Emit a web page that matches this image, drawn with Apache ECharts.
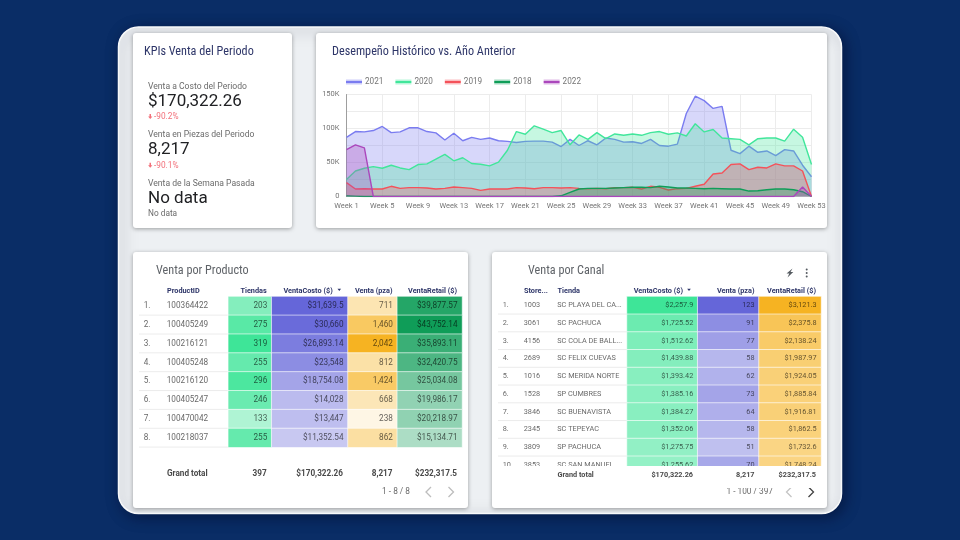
<!DOCTYPE html>
<html><head><meta charset="utf-8">
<style>html,body{margin:0;padding:0;background:#0a2d66}#c{width:960px;height:540px}</style>
<script src="https://cdn.jsdelivr.net/npm/echarts@6/dist/echarts.min.js"></script>
</head><body><div id="c"></div>
<script>
// ---------- data ----------
const weeks = Array.from({length:53},(_,i)=>'Week '+(i+1));
const s2021 = [87,95.5,95,97,103,94,95,101,101,95.5,93.5,83,93,82,87,84,86,82,81,79.5,81,81.5,81.5,80,73.5,84,75,82,76,86,84,80,80.5,78,84,75,74,77,122,147.5,141,129.5,132.5,68,63,74,65,67,60,69,67,46,29];
const s2020 = [25,37.5,41.5,44,41.5,46,42,39.5,47,48,55,62,52.5,57,48.5,47.5,45,50.5,68,95.5,91.5,104,99,94,97,76,90.5,84,94,85,92,90,92,90,94,95.5,91.5,93.5,89,107,95,98.5,86,85,84,76,85,86,86,81.5,99,87,47];
const s2019 = [20.5,11,11.5,11,11,15,12,13,13,12.5,11,12,14,13,12,9,11,11,11,13,12.5,11.5,13,13,12.5,13,12,11.5,12,11.5,13,13,13.5,11,15,13.5,9.5,11.5,12,15,18,33,34.5,47,48,39.5,43,42,48,45,45,37.5,0];
const s2018 = [1,0.5,0,0,0,0,0,0,0,0,0,0,0,0,0,0,0,0,0,0,0,0,0,0,1,6,11,12,12,12,12.5,13,13.5,13.5,13,15,14,12.5,12.5,12,11.5,12,11.5,11,11,8,8.5,10,11,11,10,7,0];
const s2022 = [69,76,71.5,0,0,0,0,0,0,0,0,0,0,0,0,0,0,0,0,0,0,0,0,0,0,0,0,0,0,0,0,0,0,0,0,0,0,0,0,0,0,0,0,0,0,0,0,0,0,0,0,14,0];
const seriesNames = ['2021','2020','2019','2018','2022'];
const seriesColors = ['#7a7cf0','#41e69b','#f4525a','#0f9d58','#ab47bc'];
const yTicksK = [0,50,100,150];

const prodIds = ['100364422','100405249','100216121','100405248','100216120','100405247','100470042','100218037'];
const prodStores = [203,275,319,255,296,246,133,255];
const prodCost = [31639.5,30660,26893.14,23548,18754.08,14028,13447,11352.54];
const prodPieces = [711,1460,2042,812,1424,668,238,862];
const prodRetail = [39877.57,43752.14,35893.11,32420.75,25034.08,19986.17,20218.97,15134.71];

const chanIds = ['1003','3061','4156','2689','1016','1528','3846','2345','3809','3853'];
const chanNames = ['SC PLAYA DEL CA...','SC PACHUCA','SC COLA DE BALL...','SC FELIX CUEVAS','SC MERIDA NORTE','SP CUMBRES','SC BUENAVISTA','SC TEPEYAC','SP PACHUCA','SC SAN MANUEL'];
const chanCost = [2257.9,1725.52,1512.62,1439.88,1393.42,1385.16,1384.27,1352.06,1275.75,1255.62];
const chanPieces = [123,91,77,58,62,73,64,58,51,70];
const chanRetail = [3121.3,2375.8,2138.24,1987.97,1924.05,1885.84,1916.81,1862.5,1732.6,1748.24];

const kpis = [
  {label:'Venta a Costo del Periodo', value:'$170,322.26', delta:'-90.2%'},
  {label:'Venta en Piezas del Periodo', value:'8,217', delta:'-90.1%'},
  {label:'Venta de la Semana Pasada', value:'No data', delta:'No data'}
];
// ---------- helpers ----------
const FONT='Roboto', TITLE='"Roboto Condensed","Liberation Sans Narrow",Roboto';
const money=v=>'$'+v.toLocaleString('en-US',{maximumFractionDigits:2});
const int=v=>v.toLocaleString('en-US');
const hex=c=>[1,3,5].map(i=>parseInt(c.substr(i,2),16));
const shade=(c,t)=>{const a=hex(c);return 'rgb('+a.map(x=>Math.round(255+(x-255)*t)).join(',')+')';};

const graphic=[], grids=[], xAxes=[], yAxes=[], series=[];
const T=(x,y,text,o={})=>graphic.push({type:'text',x,y:y+.8,z:o.z||5,zlevel:0,style:{text,fill:o.color||'#5f6368',font:(o.weight||'400')+' '+(o.size||8)+'px '+(o.font||FONT),textAlign:o.align||'left',textVerticalAlign:'middle'}});
const card=(x,y,w,h)=>graphic.push({type:'rect',z:1,shape:{x,y,width:w,height:h,r:3},style:{fill:'#fff',shadowBlur:4,shadowOffsetY:1,shadowColor:'rgba(0,0,0,.35)'}});

// page
graphic.push({type:'rect',z:0,shape:{x:118.5,y:27,width:723,height:486.5,r:20},style:{fill:'#edf0f3',stroke:'#f8f9fa',lineWidth:1.5,shadowBlur:14,shadowOffsetX:3,shadowOffsetY:3,shadowColor:'rgba(0,10,40,.55)'}});
card(133,33,159,195); card(316,33,511,195); card(133,252,335,256); card(492,252,335,256);

// KPI
T(144,51.5,'KPIs Venta del Periodo',{size:12.2,color:'#2d3568',font:TITLE});
[[86,101,116],[134.3,149.3,164.7],[183,198,213]].forEach((ys,i)=>{
  const k=kpis[i];
  T(148,ys[0],k.label,{size:8.6,color:'#6b6b6b'});
  T(148,ys[1],k.value,{size:17,color:'#202124'});
  if(i<2){ 
    graphic.push({type:'polygon',z:5,shape:{points:[[149.5,ys[2]-2],[151,ys[2]-2],[151,ys[2]+.5],[152.4,ys[2]+.5],[150.25,ys[2]+3],[148.1,ys[2]+.5],[149.5,ys[2]+.5]]},style:{fill:'#f2707a'}});
    T(154,ys[2],k.delta,{size:8.3,color:'#f2707a'});
  } else T(148,ys[2],k.delta,{size:8.3,color:'#6b6b6b'});
});
T(332,51.5,'Desempeño Histórico vs. Año Anterior',{size:12.2,color:'#2d3568',font:TITLE});

// line chart
grids.push({left:346.5,top:94.5,width:465,height:102,containLabel:false});
xAxes.push({type:'category',gridIndex:0,data:weeks,boundaryGap:false,z:3,
  axisLine:{show:false},axisTick:{show:false},
  axisLabel:{interval:3,color:'#757575',fontFamily:FONT,fontSize:7.5,margin:6},
  splitLine:{show:true,interval:3,lineStyle:{color:'#ececec',width:1}}});
yAxes.push({type:'value',gridIndex:0,min:0,max:150,interval:25,z:3,
  axisLine:{show:true,lineStyle:{color:'#9e9e9e',width:1}},axisTick:{show:false},
  axisLabel:{color:'#757575',fontFamily:FONT,fontSize:7.5,margin:7,
    formatter:v=>yTicksK.includes(v)?(v?v+'K':'0'):''},
  splitLine:{show:true,lineStyle:{color:'#ececec',width:1}}});
[s2021,s2020,s2019,s2018,s2022].forEach((d,i)=>series.push({type:'line',name:seriesNames[i],xAxisIndex:0,yAxisIndex:0,data:d,
  symbol:'none',z:10+i,lineStyle:{color:seriesColors[i],width:1.4},itemStyle:{color:seriesColors[i]},areaStyle:{color:seriesColors[i],opacity:.3}}));

// tables
function table(t){
  const n=t.rows;
  const top=t.top, h=t.pitch*n;
  t.cols.forEach(c=>{
    const gi=grids.length;
    grids.push({left:c.x,top,width:c.w,height:h});
    xAxes.push({type:'category',gridIndex:gi,data:[c.name],show:false});
    yAxes.push({type:'category',gridIndex:gi,inverse:true,data:c.values.map((_,i)=>i),show:false});
    const max=c.color?Math.max(...c.values):1;
    series.push({type:'heatmap',xAxisIndex:gi,yAxisIndex:gi,z:6,
      data:c.values.map((v,i)=>({value:[0,i,c.color?v:i],
        itemStyle:{color:c.color?shade(c.color,v/max):'rgba(255,255,255,0)',
          borderColor:c.color?'#fff':'rgba(0,0,0,0)',borderWidth:c.color?.6:0}})),
      label:{show:true,position:c.align==='left'?'insideLeft':'insideRight',distance:c.pad,fontFamily:FONT,fontSize:t.size,color:'rgba(0,0,0,.62)',
        formatter:p=>{const v=c.values[p.value[1]];return c.fmt?c.fmt(v):String(v);}}});
  });
}
const idx=n=>Array.from({length:n},(_,i)=>(i+1)+'.');
function rules(x0,x1,top,pitch,n){for(let i=1;i<=n;i++){const y=top+pitch*i-.2;graphic.push({type:'line',z:2,shape:{x1:x0,y1:y,x2:x1,y2:y},style:{stroke:'#ececec',lineWidth:1}});}}
const sortMark=(x,y)=>graphic.push({type:'polygon',z:5,shape:{points:[[x-1.8,y-1],[x+1.8,y-1],[x,y+1.2]]},style:{fill:'#2d3568'}});

table({rows:8,top:296.5,pitch:18.85,size:8.2,cols:[
  {name:'n',x:139,w:28,values:idx(8),align:'left',pad:5},
  {name:'ProductID',x:167,w:61,values:prodIds,align:'left',pad:0},
  {name:'Tiendas',x:228.3,w:43.4,values:prodStores,color:'#3ee598',pad:5},
  {name:'VentaCosto',x:271.7,w:76.3,values:prodCost,color:'#6566d9',fmt:money,pad:5},
  {name:'Venta',x:348,w:49.3,values:prodPieces,color:'#f6b322',fmt:int,pad:5},
  {name:'VentaRetail',x:397.3,w:64.7,values:prodRetail,color:'#0f9d58',fmt:money,pad:5}]});
rules(139,228,296.5,18.85,8);
const hdr={size:7.3,color:'#2d3568',weight:'700'};
T(167,290,'ProductID',hdr);
T(266.7,290,'Tiendas',{...hdr,align:'right'});
T(332.7,290,'VentaCosto ($)',{...hdr,align:'right'});
sortMark(339.3,289.8);
T(392.5,290,'Venta (pza)',{...hdr,align:'right'});
T(457,290,'VentaRetail ($)',{...hdr,align:'right'});
T(156,270.5,'Venta por Producto',{size:12.2,color:'#5f6368',font:TITLE});
const tot={size:8.2,color:'#4a4a4a',weight:'700'};
T(167,473.5,'Grand total',tot);
T(266.7,473.5,'397',{...tot,align:'right'});
T(343,473.5,'$170,322.26',{...tot,align:'right'});
T(392.5,473.5,'8,217',{...tot,align:'right'});
T(457,473.5,'$232,317.5',{...tot,align:'right'});
T(410,491.5,'1 - 8 / 8',{size:8.3,align:'right',color:'#6b6b6b'});

table({rows:10,top:296.5,pitch:17.75,size:7.3,cols:[
  {name:'n',x:498,w:26,values:idx(10),align:'left',pad:5},
  {name:'Store',x:524,w:34,values:chanIds,align:'left',pad:0},
  {name:'Tienda',x:557.5,w:69.5,values:chanNames,align:'left',pad:0},
  {name:'VentaCosto',x:627,w:70.7,values:chanCost,color:'#3ee598',fmt:money,pad:5},
  {name:'Venta',x:697.7,w:61.3,values:chanPieces,color:'#6566d9',pad:5},
  {name:'VentaRetail',x:759,w:62,values:chanRetail,color:'#f6b322',fmt:money,pad:5}]});
rules(498,627,296.5,17.75,10);
graphic.push({type:'rect',z:40,zlevel:1,shape:{x:495,y:466,width:330,height:22},style:{fill:'#fff'}});
T(524,290,'Store...',hdr);
T(557.5,290,'Tienda',hdr);
T(683,290,'VentaCosto ($)',{...hdr,align:'right'});
sortMark(689,289.8);
T(754.5,290,'Venta (pza)',{...hdr,align:'right'});
T(816,290,'VentaRetail ($)',{...hdr,align:'right'});
T(528,270.5,'Venta por Canal',{size:12.2,color:'#5f6368',font:TITLE});
const tot2={size:7.3,color:'#4a4a4a',weight:'700'};
const late=(x,y,s,opt)=>{T(x,y,s,opt);const e=graphic[graphic.length-1];e.zlevel=1;e.z=41;};
late(557.5,474,'Grand total',tot2);
late(693,474,'$170,322.26',{...tot2,align:'right'});
late(754.5,474,'8,217',{...tot2,align:'right'});
late(816,474,'$232,317.5',{...tot2,align:'right'});
T(773,491.5,'1 - 100 / 397',{size:8.3,align:'right',color:'#6b6b6b'});

// pager chevrons
const chev=(x,y,dir,c)=>graphic.push({type:'polyline',z:5,shape:{points:[[x-dir*2.5,y-5],[x+dir*2.5,y],[x-dir*2.5,y+5]]},style:{stroke:c,lineWidth:1.3,fill:'none'}});
chev(428.5,492,-1,'#bdbdbd'); chev(451,492,1,'#bdbdbd');
chev(789,492,-1,'#c4c4c4'); chev(811,492,1,'#424242');
// bolt & kebab
graphic.push({type:'polygon',z:5,shape:{points:[[792.5,268.5],[786.5,273.5],[789.3,273.5],[787.5,277.5],[793.3,272],[790.5,272]]},style:{fill:'#555a60'}});
[269.5,273,276.5].forEach(y=>graphic.push({type:'circle',z:5,shape:{cx:806.7,cy:y,r:1},style:{fill:'#555a60'}}));

const legendIcon=c=>({type:'linear',x:0,y:0,x2:0,y2:1,colorStops:[
  {offset:0,color:shade(c,.38)},{offset:.3,color:shade(c,.38)},{offset:.3,color:c},{offset:.62,color:c},{offset:.62,color:shade(c,.38)},{offset:1,color:shade(c,.38)}]});

const chart=echarts.init(document.getElementById('c'),null,{renderer:'canvas'});
chart.setOption({
  animation:false,backgroundColor:'#0a2d66',
  legend:{left:346,top:78,padding:0,itemWidth:16,itemHeight:5,itemGap:12,icon:'rect',
    textStyle:{color:'#757575',fontFamily:FONT,fontSize:8.2,padding:[0,0,0,-2]},
    data:seriesNames.map((n,i)=>({name:n,itemStyle:{color:legendIcon(seriesColors[i])}}))},
  grid:grids,xAxis:xAxes,yAxis:yAxes,series,graphic:{elements:graphic}
});
</script></body></html>
